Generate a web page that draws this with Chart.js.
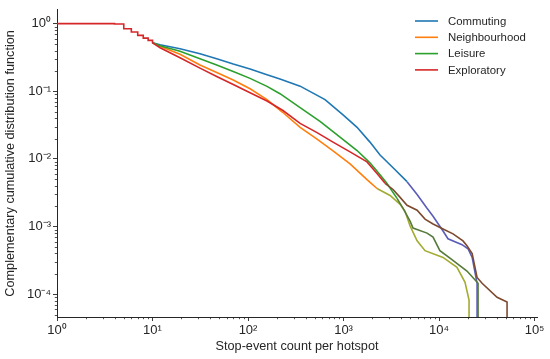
<!DOCTYPE html>
<html>
<head>
<meta charset="utf-8">
<script src="https://cdn.jsdelivr.net/npm/chart.js@4/dist/chart.umd.min.js"></script>
<style>
  html, body { margin: 0; padding: 0; background: #fff; }
  #wrap { width: 550px; height: 359px; }
</style>
</head>
<body>
<div id="wrap"><canvas id="ccdf"></canvas></div>
<script>
// Series names
const categories = ['Commuting', 'Neighbourhood', 'Leisure', 'Exploratory'];

// Shared staircase at small counts (all four curves coincide here)
const headCounts = [1, 4, 4, 5, 5, 6, 6, 7, 7, 8, 8, 9, 9, 10, 10];
const headCcdf   = [1, 1, 0.985, 0.985, 0.84, 0.84, 0.75, 0.75, 0.67, 0.67, 0.61, 0.61, 0.565, 0.565, 0.52];

// Commuting
const commutingCounts = [12, 19.4, 31.4, 47, 70, 105, 158, 216, 351, 640, 988, 1385, 1890, 2410, 3300, 4620, 5890, 7480, 8650, 11000, 12400, 17400, 20100, 22200, 25000, 25000];
const commutingCcdf   = [0.486, 0.424, 0.359, 0.303, 0.252, 0.213, 0.176, 0.152, 0.119, 0.0751, 0.0446, 0.0293, 0.0177, 0.0114, 0.00739, 0.00461, 0.00298, 0.00186, 0.00142, 0.00086, 0.00066, 0.00054, 0.00047, 0.00035, 0.000145, 0.00001];

// Neighbourhood
const neighbourhoodCounts = [12, 19.4, 31.4, 47, 70, 105, 158, 232, 351, 528, 776, 1170, 1760, 2240, 3070, 3910, 4400, 4970, 5890, 7130, 11000, 15400, 18700, 20600, 20600];
const neighbourhoodCcdf   = [0.461, 0.353, 0.244, 0.189, 0.147, 0.1087, 0.0751, 0.0485, 0.0293, 0.0196, 0.0131, 0.00845, 0.00493, 0.00365, 0.00288, 0.00213, 0.00168, 0.00102, 0.000614, 0.00044, 0.00035, 0.00025, 0.00015, 0.0000817, 0.00001];

// Leisure
const leisureCounts = [12, 19.4, 31.4, 47, 70, 105, 158, 216, 351, 567, 918, 1385, 1890, 2410, 2850, 3630, 4200, 4970, 5340, 7480, 8650, 10200, 13000, 19600, 25600, 25600];
const leisureCcdf   = [0.469, 0.39, 0.303, 0.244, 0.196, 0.155, 0.118, 0.092, 0.0574, 0.0359, 0.021, 0.0133, 0.00874, 0.00584, 0.00432, 0.00261, 0.00186, 0.0012, 0.00095, 0.0008, 0.0007, 0.00044, 0.00034, 0.00022, 0.000145, 0.00001];

// Exploratory
const exploratoryCounts = [12, 19.4, 31.4, 47, 70, 105, 158, 232, 351, 528, 776, 1170, 1760, 2240, 2720, 3300, 3910, 4620, 5890, 7130, 8650, 11000, 14000, 17800, 19600, 22200, 25000, 28200, 40500, 51500, 51500];
const exploratoryCcdf   = [0.439, 0.313, 0.22, 0.1656, 0.126, 0.0951, 0.0719, 0.0519, 0.0335, 0.0245, 0.0177, 0.0127, 0.00904, 0.0061, 0.00436, 0.00353, 0.0027, 0.00206, 0.00174, 0.00129, 0.00109, 0.00092, 0.00078, 0.000614, 0.00052, 0.0004, 0.000177, 0.000145, 0.00009, 0.0000764, 0.00001];

// Axis ticks (decades)
const xTicks = [1, 10, 100, 1000, 10000, 100000];
const yTicks = [0.0001, 0.001, 0.01, 0.1, 1];

const axisColor = '#262626';
const lineColors = ['#1f77b4', '#ff7f0e', '#2ca02c', '#d62728'];
// the low tail of each curve is tinted differently in the source figure
const tailColors = ['#5a5db8', '#a3ab30', '#557a3a', '#7d4a2e'];
const tailFrom = [0.0047, 0.0037, 0.0042, 0.0044];
const HEAD_END = 10;
const FONT = '"Liberation Sans", Arial, sans-serif';

const seriesCounts = [commutingCounts, neighbourhoodCounts, leisureCounts, exploratoryCounts];
const seriesCcdf = [commutingCcdf, neighbourhoodCcdf, leisureCcdf, exploratoryCcdf];

function toPoints(xs, ys) {
  return xs.map((x, i) => ({ x, y: ys[i] }));
}

const SUP = { '0': '⁰', '1': '¹', '2': '²', '3': '³', '4': '⁴', '5': '⁵', '-': '⁻' };
function powLabel(v) {
  const e = Math.round(Math.log10(v));
  return '10' + String(e).split('').map(c => SUP[c]).join('');
}

// segment colour: shared head only drawn by the top curve (avoids muddy
// anti-aliased overlap), tail tinted below its level
function segColor(ctx, i) {
  if (i !== 3 && ctx.p1.parsed.x <= HEAD_END) return 'rgba(0,0,0,0)';
  return ctx.p0.parsed.y < tailFrom[i] ? tailColors[i] : lineColors[i];
}

const datasets = categories.map((name, i) => ({
  label: name,
  data: toPoints(headCounts, headCcdf).concat(toPoints(seriesCounts[i], seriesCcdf[i])),
  borderColor: lineColors[i],
  borderWidth: 1.6,
  pointRadius: 0,
  fill: false,
  tension: 0,
  order: 3 - i,
  segment: { borderColor: ctx => segColor(ctx, i) }
}));

// minor ticks on the log axes
const minorTicks = {
  id: 'minorTicks',
  afterDraw(chart) {
    const { ctx } = chart;
    const xs = chart.scales.x, ys = chart.scales.y;
    ctx.save();
    ctx.strokeStyle = axisColor;
    ctx.lineWidth = 0.8;
    ctx.beginPath();
    for (let e = 0; e <= 5; e++) {
      for (let m = 2; m <= 9; m++) {
        const v = m * Math.pow(10, e);
        if (v > xs.max) continue;
        const px = Math.round(xs.getPixelForValue(v)) + 0.5;
        ctx.moveTo(px, xs.top);
        ctx.lineTo(px, xs.top + 2.2);
      }
    }
    for (let e = -5; e <= 0; e++) {
      for (let m = 2; m <= 9; m++) {
        const v = m * Math.pow(10, e);
        if (v < ys.min || v > ys.max) continue;
        const py = Math.round(ys.getPixelForValue(v)) + 0.5;
        ctx.moveTo(ys.right, py);
        ctx.lineTo(ys.right - 2.2, py);
      }
    }
    ctx.stroke();
    ctx.restore();
  }
};

// legend in the upper right, matplotlib style
const cornerLegend = {
  id: 'cornerLegend',
  afterDraw(chart) {
    const { ctx } = chart;
    ctx.save();
    ctx.font = '11.4px ' + FONT;
    ctx.textBaseline = 'middle';
    ctx.textAlign = 'left';
    chart.data.datasets.forEach((ds, i) => {
      const y = 21 + i * 16.3;
      ctx.strokeStyle = lineColors[i];
      ctx.lineWidth = 1.6;
      ctx.beginPath();
      ctx.moveTo(415, y);
      ctx.lineTo(438, y);
      ctx.stroke();
      ctx.fillStyle = axisColor;
      ctx.fillText(ds.label, 448, y + 0.5);
    });
    ctx.restore();
  }
};

new Chart(document.getElementById('ccdf'), {
  type: 'line',
  data: { datasets },
  plugins: [minorTicks, cornerLegend],
  options: {
    responsive: true,
    maintainAspectRatio: false,
    animation: false,
    events: [],
    layout: { padding: { top: 6, right: 13, left: 0, bottom: 0 } },
    plugins: {
      legend: { display: false },
      tooltip: { enabled: false }
    },
    scales: {
      x: {
        type: 'logarithmic',
        min: 1,
        max: 106000,
        afterBuildTicks: s => { s.ticks = xTicks.map(v => ({ value: v })); },
        afterFit: s => { s.height = 42; },
        ticks: {
          autoSkip: false,
          maxRotation: 0,
          padding: 2,
          color: axisColor,
          font: { family: FONT, size: 13 },
          callback: v => powLabel(v)
        },
        grid: { drawOnChartArea: false, tickLength: 4, tickColor: axisColor, tickWidth: 0.9 },
        border: { color: axisColor, width: 1 },
        title: {
          display: true,
          text: 'Stop-event count per hotspot',
          color: axisColor,
          font: { family: FONT, size: 12.7 },
          padding: { top: 0, bottom: 4.4 }
        }
      },
      y: {
        type: 'logarithmic',
        min: 0.000046,
        max: 1.6,
        afterBuildTicks: s => { s.ticks = yTicks.map(v => ({ value: v })); },
        afterFit: s => { s.width = 57; },
        ticks: {
          autoSkip: false,
          padding: 2,
          color: axisColor,
          font: { family: FONT, size: 13 },
          callback: v => powLabel(v)
        },
        grid: { drawOnChartArea: false, tickLength: 4, tickColor: axisColor, tickWidth: 0.9 },
        border: { color: axisColor, width: 1 },
        title: {
          display: true,
          text: 'Complementary cumulative distribution function',
          color: axisColor,
          font: { family: FONT, size: 12.7 },
          padding: { top: 2.5, bottom: 0 }
        }
      }
    }
  }
});
</script>
</body>
</html>
